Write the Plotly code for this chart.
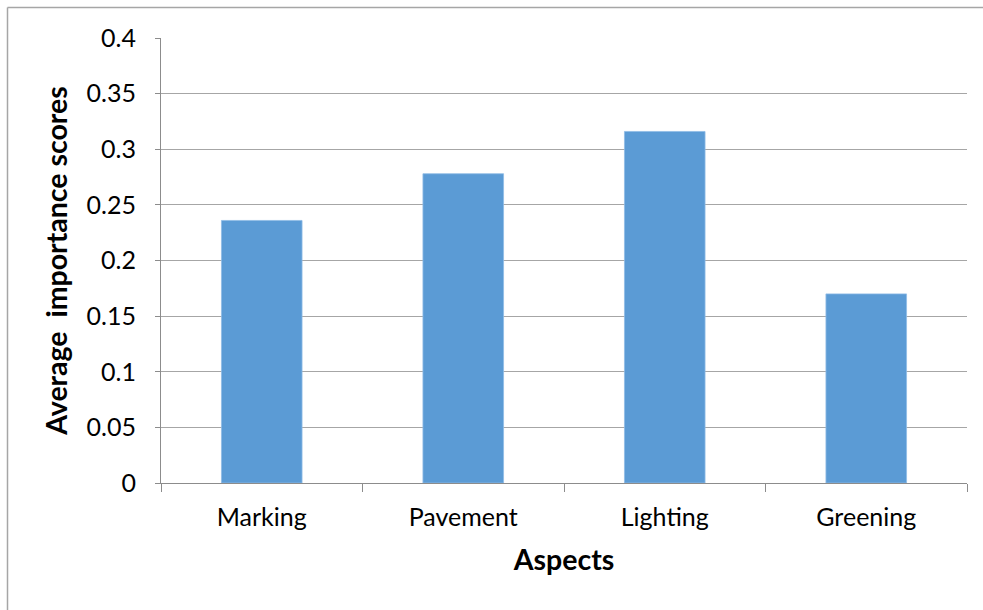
import plotly.graph_objects as go

# Average importance score for each road aspect
aspects = ["Marking", "Pavement", "Lighting", "Greening"]
scores = [0.236, 0.278, 0.316, 0.170]

y_tickvals = [0, 0.05, 0.1, 0.15, 0.2, 0.25, 0.3, 0.35, 0.4]
y_ticktext = ["0", "0.05", "0.1", "0.15", "0.2", "0.25", "0.3", "0.35", "0.4"]

FONT = "Lato, 'Open Sans', sans-serif"
AXIS_GREY = "#8c8c8c"
GRID_GREY = "#a6a6a6"

W, H = 983, 610
L, R, T, B = 161, 16, 38, 127

fig = go.Figure(
    go.Bar(
        x=aspects,
        y=scores,
        marker=dict(color="#5b9bd5", line=dict(color="#8fbbe6", width=0.8)),
        width=0.4,
        hoverinfo="x+y",
    )
)

fig.update_layout(
    width=W,
    height=H,
    margin=dict(l=L, r=R, t=T, b=B, pad=0),
    paper_bgcolor="white",
    plot_bgcolor="white",
    showlegend=False,
    font=dict(family=FONT, size=25, color="#000000"),
)

fig.update_xaxes(
    type="category",
    tickson="boundaries",
    ticks="outside",
    ticklen=8,
    tickwidth=1,
    tickcolor=AXIS_GREY,
    ticklabelstandoff=12,
    showline=True,
    linecolor=AXIS_GREY,
    linewidth=1,
    showgrid=False,
    tickfont=dict(family=FONT, size=25),
    title=dict(
        text="<b>Aspects</b>",
        font=dict(family=FONT, size=28.5),
        standoff=20,
    ),
)

fig.update_yaxes(
    range=[0, 0.4],
    tickvals=y_tickvals,
    ticktext=y_ticktext,
    ticks="outside",
    ticklen=5,
    tickwidth=1,
    tickcolor=AXIS_GREY,
    ticklabelstandoff=14,
    showline=True,
    linecolor=AXIS_GREY,
    linewidth=1,
    showgrid=True,
    gridcolor=GRID_GREY,
    gridwidth=1,
    zeroline=False,
    tickfont=dict(family=FONT, size=25),
    title=dict(
        text="<b>Average  importance scores</b>",
        font=dict(family=FONT, size=28.5),
        standoff=10,
    ),
)

# Chart frame: left and top edges, running to the page edges
pw = W - L - R
ph = H - T - B
fx0 = (7.5 - L) / pw
fx1 = (W - L) / pw
fy_top = (H - B - 7.5) / ph
fy_bot = -B / ph
frame = dict(color="#a6a6a6", width=1.5)
fig.add_shape(type="line", xref="paper", yref="paper",
              x0=fx0, x1=fx0, y0=fy_bot, y1=fy_top, line=frame, layer="below")
fig.add_shape(type="line", xref="paper", yref="paper",
              x0=fx0, x1=fx1, y0=fy_top, y1=fy_top, line=frame, layer="below")

fig.write_html("out.html")
